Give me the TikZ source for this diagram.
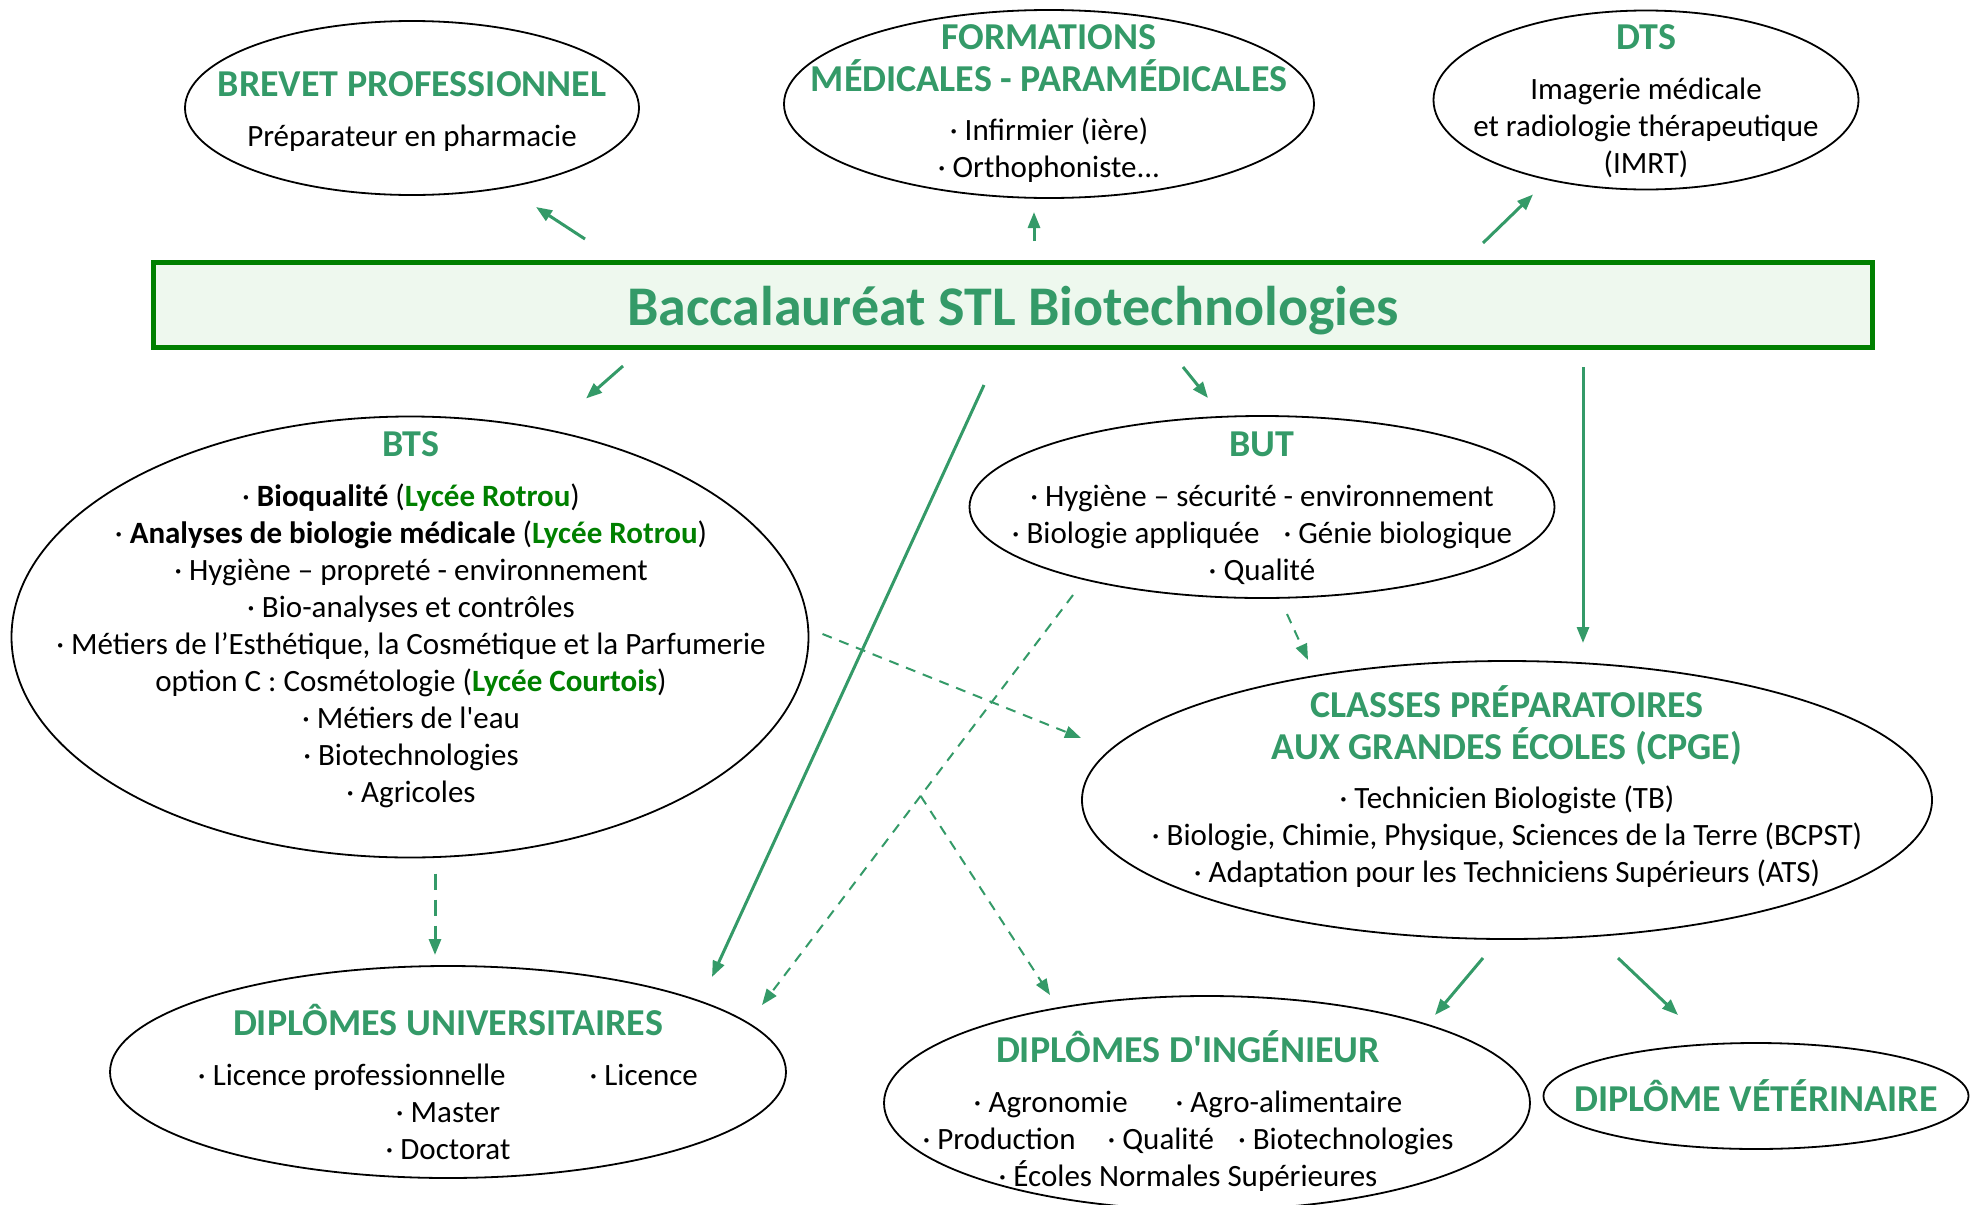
\documentclass[tikz,border=0pt]{standalone}
\usepackage{fontspec}
\setmainfont{Carlito}
\usepackage{tikz}
\usetikzlibrary{calc}
\usetikzlibrary{shapes.geometric}
\usetikzlibrary{arrows.meta}
\definecolor{hdgreen}{RGB}{52,154,104}
\definecolor{lycgreen}{RGB}{0,128,0}
\definecolor{bacfill}{RGB}{238,248,238}
\newcommand{\hd}[1]{{\fontsize{19}{21}\selectfont\bfseries\color{hdgreen}#1}}
\newcommand{\lyc}[1]{\textcolor{lycgreen}{\textbf{#1}}}
\newcommand{\bul}{\textperiodcentered\ }

\begin{document}
\begin{tikzpicture}[x=0.5pt,y=-0.5pt,
            oval/.style={draw,ellipse,line width=0.9pt,inner sep=0pt,outer sep=0pt},
            txt/.style={align=center,font=\fontsize{15.5}{18.5}\selectfont},
            arr/.style={draw=hdgreen,line width=1.5pt,-{Triangle[length=8pt,width=6pt]}},
            darr/.style={draw=hdgreen,line width=1pt,dash pattern=on 5pt off 4pt,-{Triangle[length=8pt,width=6pt]}}]
            \useasboundingbox (0,0) rectangle (1977,1205);

            \node[draw=lycgreen,fill=bacfill,line width=2.5pt,minimum width=859.5pt,minimum height=42.5pt,inner sep=0pt]
                (bac) at (1013,305) {\raisebox{-10pt}[0pt][0pt]{\fontsize{28}{30}\selectfont\bfseries\color{hdgreen}Baccalauréat STL Biotechnologies}};

            \node[oval,minimum width=227pt,minimum height=87pt] (brevet) at (412,108) {};
            \node[oval,minimum width=265pt,minimum height=94pt] (form) at (1049,104) {};
            \node[oval,minimum width=212.5pt,minimum height=89.5pt] (dts) at (1646,100) {};
            \node[oval,minimum width=398.5pt,minimum height=220.5pt] (bts) at (410,637) {};
            \node[oval,minimum width=292.5pt,minimum height=91pt] (but) at (1262,507) {};
            \node[oval,minimum width=425pt,minimum height=139pt] (cpge) at (1507,800) {};
            \node[oval,minimum width=338pt,minimum height=106pt] (univ) at (448,1072) {};
            \node[oval,minimum width=323pt,minimum height=107pt] (ing) at (1207,1103) {};
            \node[oval,minimum width=212.5pt,minimum height=53pt] (vet) at (1756,1096) {};

            \node[txt] (brevet-t) at (412,112) {\hd{BREVET PROFESSIONNEL}\\[6.5pt] Préparateur en pharmacie};
            \node[txt] (form-t) at (1049,104) {\hd{FORMATIONS}\\[2.5pt]\hd{MÉDICALES - PARAMÉDICALES}\\[6pt]
                \bul Infirmier (ière)\\ \bul Orthophoniste...};
            \node[txt] (dts-t) at (1646,101) {\hd{DTS}\\[6.5pt] Imagerie médicale\\ et radiologie thérapeutique\\ (IMRT)};
            \node[txt] (bts-t) at (411,620) {\hd{BTS}\\[6.5pt]
                \bul\textbf{Bioqualité} (\lyc{Lycée Rotrou})\\
                \bul\textbf{Analyses de biologie médicale}\ (\lyc{Lycée Rotrou})\\
                \bul Hygiène – propreté - environnement\\
                \bul Bio-analyses et contrôles\\
                \bul Métiers de l’Esthétique, la Cosmétique et la Parfumerie\\
                option C : Cosmétologie (\lyc{Lycée Courtois})\\
                \bul Métiers de l\textquotesingle eau\\
                \bul Biotechnologies\\
                \bul Agricoles};
            \node[txt] (but-t) at (1262,508) {\hd{BUT}\\[6.5pt]
                \bul Hygiène – sécurité - environnement\\
                \bul Biologie appliquée\hspace{12pt}\bul Génie biologique\\
                \bul Qualité};
            \node[txt] (cpge-t) at (1507,787) {\hd{CLASSES PRÉPARATOIRES}\\[2.5pt]\hd{AUX GRANDES ÉCOLES (CPGE)}\\[6pt]
                \bul Technicien Biologiste (TB)\\
                \bul Biologie, Chimie, Physique, Sciences de la Terre (BCPST)\\
                \bul Adaptation pour les Techniciens Supérieurs (ATS)};
            \node[txt] (univ-t) at (448,1082) {\hd{DIPLÔMES UNIVERSITAIRES}\\[6.5pt]
                \bul Licence professionnelle\hspace{42pt}\bul Licence\\
                \bul Master\\
                \bul Doctorat};
            \node[txt] (ing-t) at (1188,1111) {\hd{DIPLÔMES D\textquotesingle INGÉNIEUR}\\[6.5pt]
                \bul Agronomie\hspace{24pt}\bul Agro-alimentaire\\
                \bul Production\hspace{16pt}\bul Qualité\hspace{12pt}\bul Biotechnologies\\
                \bul Écoles Normales Supérieures};
            \node[txt] (vet-t) at (1756,1096) {\hd{DIPLÔME VÉTÉRINAIRE}};

            \draw[arr] ($(bac.north)+(-428,-21)$) -- ($(brevet.south)+(124,12)$);
            \draw[arr] ($(bac.north)+(21,-19)$) -- ($(form.south)+(-15,14)$);
            \draw[arr] ($(bac.north)+(470,-17)$) -- ($(dts.south)+(-113,5)$);
            \draw[arr] ($(bac.south)+(-390,16)$) -- ($(bts.north)+(176,-18)$);
            \draw[arr] ($(bac.south)+(-29,35)$) -- ($(univ.north)+(264,11)$);
            \draw[arr] ($(bac.south)+(170,17)$) -- ($(but.north)+(-54,-18)$);
            \draw[arr] ($(bac.south)+(570,17)$) -- ($(cpge.north)+(76,-18)$);

            \draw[darr,line width=1.5pt,dash pattern=on 8pt off 5pt] ($(bts.south)+(25,16)$) -- ($(univ.north)+(-13,-11)$);
            \draw[darr] ($(bts.east)+(14,-3)$) -- ($(cpge.west)+(-1,-62)$);
            \draw[darr] ($(but.south)+(-189,-3)$) -- coordinate[pos=0.49] (fork) ($(univ.north)+(314,39)$);
            \draw[darr] ($(but.south)+(25,16)$) -- ($(cpge.north)+(-199,-1)$);
            \draw[darr] (fork) -- ($(ing.north)+(-157,-1)$);

            \draw[arr] ($(cpge.south)+(-24,19)$) -- ($(ing.north)+(228,19)$);
            \draw[arr] ($(cpge.south)+(111,19)$) -- ($(vet.north)+(-78,-28)$);
        \end{tikzpicture}
\end{document}
